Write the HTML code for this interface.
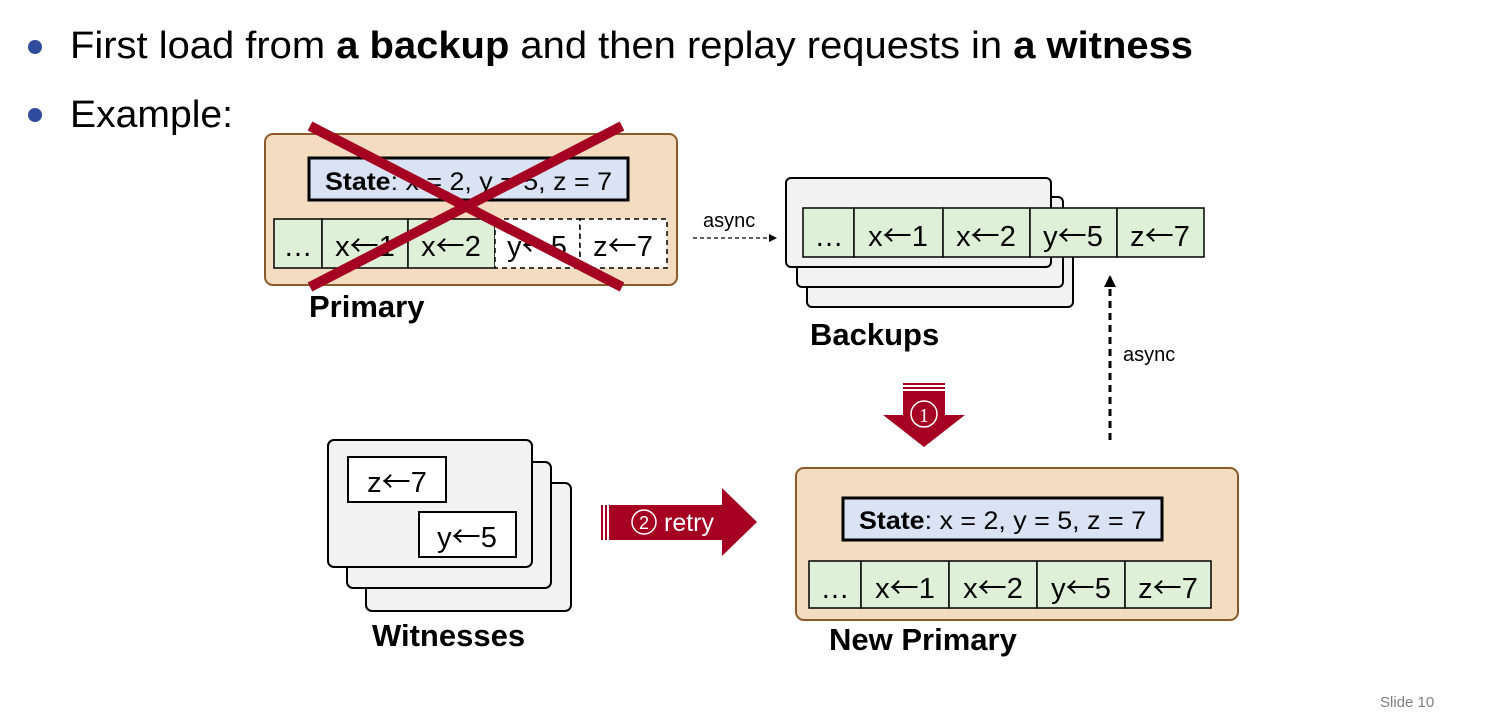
<!DOCTYPE html>
<html><head><meta charset="utf-8"><style>
body{margin:0;background:#fff;}
svg{display:block;font-family:"Liberation Sans",Arial,sans-serif;}
.ar{font-family:"Noto Sans CJK JP","Liberation Sans",sans-serif;}
</style></head><body>
<svg width="1493" height="724" viewBox="0 0 1493 724" xmlns="http://www.w3.org/2000/svg">
<defs>
<marker id="ah" markerWidth="8" markerHeight="8" refX="7" refY="4" orient="auto" markerUnits="userSpaceOnUse"><path d="M0,0 L8,4 L0,8 z" fill="#000"/></marker>
<marker id="ah2" markerWidth="12" markerHeight="12" refX="10" refY="6" orient="auto" markerUnits="userSpaceOnUse"><path d="M0,0 L12,6 L0,12 z" fill="#000"/></marker>
</defs>
<circle cx="35" cy="47" r="7" fill="#2f4c9c"/>
<circle cx="35" cy="115" r="7" fill="#2f4c9c"/>
<text x="70" y="58" font-size="38" textLength="1123" lengthAdjust="spacingAndGlyphs">First load from <tspan font-weight="bold">a backup</tspan> and then replay requests in <tspan font-weight="bold">a witness</tspan></text>
<text x="70" y="127" font-size="38" textLength="163" lengthAdjust="spacingAndGlyphs">Example:</text>

<!-- Primary -->
<rect x="265" y="134" width="412" height="151" rx="8" fill="#f4dcc1" stroke="#8b5a2b" stroke-width="2"/>
<rect x="309" y="158" width="319" height="42" fill="#dae3f3" stroke="#000" stroke-width="3"/>
<text x="325" y="190" font-size="25" textLength="287" lengthAdjust="spacingAndGlyphs"><tspan font-weight="bold">State</tspan>: x = 2, y = 5, z = 7</text>
<g stroke="#000" stroke-width="1.5">
<rect x="274" y="219" width="48" height="49" fill="#dff0d8"/>
<rect x="322" y="219" width="86" height="49" fill="#dff0d8"/>
<rect x="408" y="219" width="87" height="49" fill="#dff0d8"/>
<rect x="495" y="219" width="85" height="49" fill="#fff" stroke-dasharray="5,4"/>
<rect x="580" y="219" width="87" height="49" fill="#fff" stroke-dasharray="5,4"/>
</g>
<g font-size="29" text-anchor="middle">
<text x="298" y="256">…</text><text x="365" y="256">x<tspan class="ar">←</tspan>1</text><text x="451" y="256">x<tspan class="ar">←</tspan>2</text><text x="537" y="256">y<tspan class="ar">←</tspan>5</text><text x="623" y="256">z<tspan class="ar">←</tspan>7</text>
</g>
<line x1="310" y1="126" x2="622" y2="287" stroke="#a50021" stroke-width="10"/>
<line x1="622" y1="126" x2="310" y2="287" stroke="#a50021" stroke-width="10"/>
<text x="309" y="317" font-size="31" font-weight="bold">Primary</text>

<line x1="693" y1="238" x2="776" y2="238" stroke="#000" stroke-width="1.3" stroke-dasharray="4,3" marker-end="url(#ah)"/>
<text x="703" y="227" font-size="20">async</text>

<!-- Backups -->
<rect x="807" y="217" width="266" height="90" rx="5" fill="#f2f2f2" stroke="#000" stroke-width="2"/>
<rect x="797" y="197" width="266" height="90" rx="5" fill="#f2f2f2" stroke="#000" stroke-width="2"/>
<rect x="786" y="178" width="265" height="89" rx="5" fill="#f2f2f2" stroke="#000" stroke-width="2"/>
<g stroke="#000" stroke-width="1.5" fill="#dff0d8">
<rect x="803" y="208" width="51" height="49"/><rect x="854" y="208" width="89" height="49"/><rect x="943" y="208" width="87" height="49"/><rect x="1030" y="208" width="87" height="49"/><rect x="1117" y="208" width="87" height="49"/>
</g>
<g font-size="29" text-anchor="middle">
<text x="829" y="246">…</text><text x="898" y="246">x<tspan class="ar">←</tspan>1</text><text x="986" y="246">x<tspan class="ar">←</tspan>2</text><text x="1073" y="246">y<tspan class="ar">←</tspan>5</text><text x="1160" y="246">z<tspan class="ar">←</tspan>7</text>
</g>
<text x="810" y="345" font-size="31" font-weight="bold">Backups</text>

<line x1="1110" y1="440" x2="1110" y2="277" stroke="#000" stroke-width="3" stroke-dasharray="7,5" marker-end="url(#ah2)"/>
<text x="1123" y="361" font-size="20">async</text>

<g fill="#a50021">
<rect x="903" y="383" width="42" height="2"/>
<rect x="903" y="387" width="42" height="2"/>
<path d="M903,391 H945 V415 H965 L924,447 L883,415 H903 Z"/>
</g>
<circle cx="924" cy="414" r="13" fill="none" stroke="#fff" stroke-width="1.5"/>
<text x="924" y="422" font-size="20" fill="#fff" text-anchor="middle" font-family="Liberation Serif,serif">1</text>

<!-- Witnesses -->
<rect x="366" y="483" width="205" height="128" rx="6" fill="#f2f2f2" stroke="#000" stroke-width="2"/>
<rect x="347" y="462" width="204" height="126" rx="6" fill="#f2f2f2" stroke="#000" stroke-width="2"/>
<rect x="328" y="440" width="204" height="127" rx="6" fill="#f2f2f2" stroke="#000" stroke-width="2"/>
<rect x="348" y="457" width="98" height="45" fill="#fff" stroke="#000" stroke-width="2"/>
<rect x="419" y="512" width="97" height="45" fill="#fff" stroke="#000" stroke-width="2"/>
<text x="397" y="492" font-size="29" text-anchor="middle">z<tspan class="ar">←</tspan>7</text>
<text x="467" y="547" font-size="29" text-anchor="middle">y<tspan class="ar">←</tspan>5</text>
<text x="372" y="646" font-size="31" font-weight="bold">Witnesses</text>

<g fill="#a50021">
<rect x="601" y="505" width="2" height="35"/>
<rect x="605" y="505" width="2" height="35"/>
<path d="M609,505 H722 V488 L757,522 L722,556 V540 H609 Z"/>
</g>
<circle cx="644" cy="522" r="12" fill="none" stroke="#fff" stroke-width="1.5"/>
<text x="644" y="529" font-size="18" fill="#fff" text-anchor="middle">2</text>
<text x="664" y="531" font-size="25" fill="#fff">retry</text>

<!-- New Primary -->
<rect x="796" y="468" width="442" height="152" rx="8" fill="#f4dcc1" stroke="#8b5a2b" stroke-width="2"/>
<rect x="843" y="498" width="319" height="42" fill="#dae3f3" stroke="#000" stroke-width="3"/>
<text x="859" y="529" font-size="25" textLength="287" lengthAdjust="spacingAndGlyphs"><tspan font-weight="bold">State</tspan>: x = 2, y = 5, z = 7</text>
<g stroke="#000" stroke-width="1.5" fill="#dff0d8">
<rect x="809" y="561" width="52" height="47"/><rect x="861" y="561" width="88" height="47"/><rect x="949" y="561" width="88" height="47"/><rect x="1037" y="561" width="88" height="47"/><rect x="1125" y="561" width="86" height="47"/>
</g>
<g font-size="29" text-anchor="middle">
<text x="835" y="598">…</text><text x="905" y="598">x<tspan class="ar">←</tspan>1</text><text x="993" y="598">x<tspan class="ar">←</tspan>2</text><text x="1081" y="598">y<tspan class="ar">←</tspan>5</text><text x="1168" y="598">z<tspan class="ar">←</tspan>7</text>
</g>
<text x="829" y="650" font-size="31" font-weight="bold">New Primary</text>

<text x="1380" y="707" font-size="15" fill="#7f7f7f">Slide 10</text>
</svg>
</body></html>
